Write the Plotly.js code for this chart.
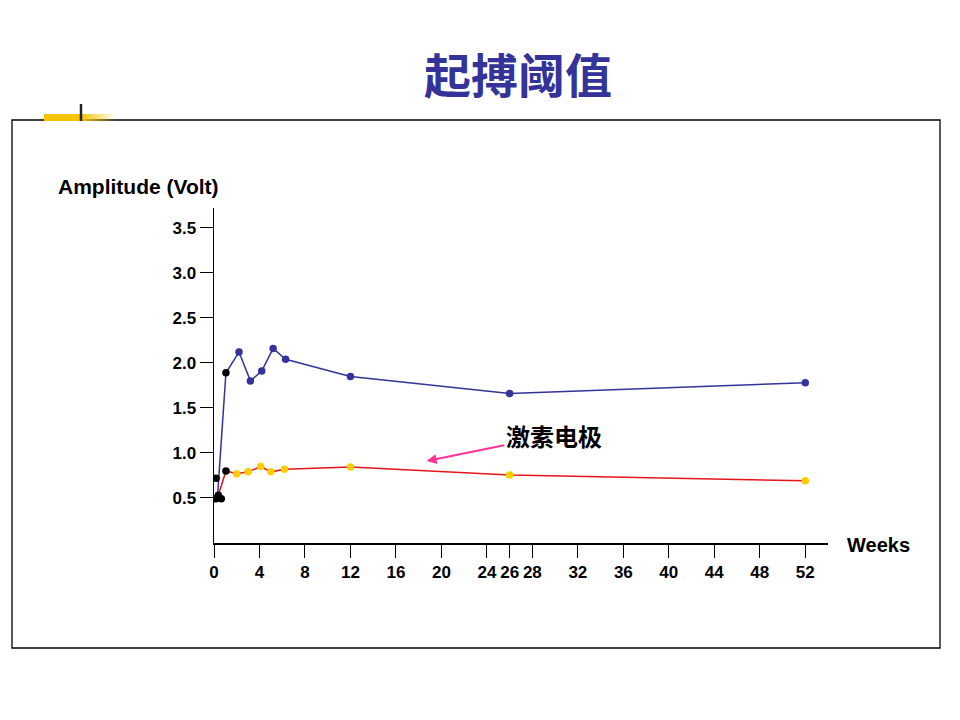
<!DOCTYPE html>
<html><head><meta charset="utf-8">
<script src="https://cdn.plot.ly/plotly-3.0.1.min.js"></script>
<style>html,body{margin:0;padding:0;background:#fff}#chart{width:960px;height:720px}</style>
</head><body><div id="chart"></div>
<script>
// Data (weeks, volts)
const blueWeeks = [0.3, 1.05, 2.2, 3.2, 4.2, 5.2, 6.3, 12, 26, 52];
const blueVolts = [0.50, 1.89, 2.12, 1.80, 1.91, 2.16, 2.04, 1.85, 1.66, 1.78];
const redWeeks = [0.38, 1.05, 2.0, 3.0, 4.1, 5.0, 6.2, 12, 26, 52];
const redVolts = [0.53, 0.80, 0.77, 0.79, 0.85, 0.79, 0.82, 0.845, 0.755, 0.69];
const blackWeeks = [0.18, 0.18, 0.64];
const blackVolts = [0.72, 0.49, 0.49];
const xTickVals = [0, 4, 8, 12, 16, 20, 24, 26, 28, 32, 36, 40, 44, 48, 52];
const yTickVals = [0.5, 1.0, 1.5, 2.0, 2.5, 3.0, 3.5];
const titleText = '起搏阈值';
const yTitle = 'Amplitude (Volt)';
const xTitle = 'Weeks';
const arrowLabel = '激素电极';

// plot area geometry (pixels)
const L = 214, R = 828, T = 208, B = 543;
const px = p => (p - L) / (R - L);
const py = p => (B - p) / (B - T);

const BLUE = '#333399', RED = '#e8141c', YEL = '#ffcc00';
const traces = [
  {x: blueWeeks, y: blueVolts, mode: 'lines+markers', line: {color: BLUE, width: 1.5},
   marker: {size: 7.5, color: blueVolts.map((v, i) => i < 2 ? '#000' : BLUE)}, hoverinfo: 'x+y'},
  {x: redWeeks, y: redVolts, mode: 'lines+markers', line: {color: RED, width: 1.5},
   marker: {size: 7.5, color: redVolts.map((v, i) => i < 2 ? '#000' : YEL)}, hoverinfo: 'x+y'},
  {x: blackWeeks, y: blackVolts, mode: 'markers', marker: {size: 7.5, color: '#000'}, hoverinfo: 'x+y'}
];

const shapes = [
  {type: 'rect', xref: 'paper', yref: 'paper', x0: px(12), x1: px(940), y0: py(648), y1: py(120),
   line: {color: '#000', width: 1.3}, fillcolor: 'rgba(0,0,0,0)', layer: 'below'}
];
// yellow fading bar
const bx1 = 116, steps = 12;
shapes.push({type: 'rect', xref: 'paper', yref: 'paper', x0: px(44), x1: px(82), y0: py(121), y1: py(114),
  line: {width: 0}, fillcolor: '#f5c400'});
for (let i = 0; i < steps; i++) {
  const a = 82 + (bx1 - 82) * i / steps, b = 82 + (bx1 - 82) * (i + 1) / steps;
  shapes.push({type: 'rect', xref: 'paper', yref: 'paper', x0: px(a), x1: px(b), y0: py(121), y1: py(114),
    line: {width: 0}, fillcolor: 'rgba(245,196,0,' + (1 - (i + 0.5) / steps).toFixed(2) + ')'});
}
shapes.push({type: 'line', xref: 'paper', yref: 'paper', x0: px(81), x1: px(81), y0: py(104), y1: py(121),
  line: {color: '#222', width: 2.5}});

const AR = 'Arial, Liberation Sans, sans-serif';
const tickFont = {family: AR, size: 17, color: '#000', weight: 'bold'};

const layout = {
  width: 960, height: 720, paper_bgcolor: '#fff', plot_bgcolor: '#fff', showlegend: false,
  margin: {l: L, r: 960 - R, t: T, b: 720 - B, pad: 0},
  xaxis: {range: [0, 54], tickvals: xTickVals, ticktext: xTickVals.map(String), showgrid: false, zeroline: false,
    showline: true, linecolor: '#000', linewidth: 1.5, ticks: 'outside', ticklen: 13, tickwidth: 1, tickcolor: '#000',
    tickfont: tickFont, fixedrange: true},
  yaxis: {range: [0, 3.72], tickvals: yTickVals, ticktext: yTickVals.map(v => v.toFixed(1)), showgrid: false, zeroline: false,
    showline: true, linecolor: '#000', linewidth: 1.5, ticks: 'outside', ticklen: 13, tickwidth: 1, tickcolor: '#000',
    tickfont: tickFont, fixedrange: true},
  shapes: shapes,
  annotations: [
    {xref: 'paper', yref: 'paper', x: px(518), y: py(73), text: titleText, showarrow: false,
     xanchor: 'center', yanchor: 'middle',
     font: {family: 'Noto Sans CJK SC, sans-serif', size: 47, color: BLUE, weight: 'bold'}},
    {xref: 'paper', yref: 'paper', x: px(56), y: py(186), text: yTitle, showarrow: false,
     xanchor: 'left', yanchor: 'middle', font: {family: AR, size: 21, color: '#000', weight: 'bold'}},
    {xref: 'paper', yref: 'paper', x: px(845), y: py(545), text: xTitle, showarrow: false,
     xanchor: 'left', yanchor: 'middle', font: {family: AR, size: 20, color: '#000', weight: 'bold'}},
    {x: 18.7, y: 0.91, xref: 'x', yref: 'y', text: arrowLabel, showarrow: true, arrowhead: 2, arrowsize: 1,
     arrowwidth: 2, arrowcolor: '#ff3399', ax: 127, ay: -26, xanchor: 'center', yanchor: 'middle',
     font: {family: 'Noto Sans CJK SC, sans-serif', size: 24, color: '#000', weight: 'bold'}}
  ]
};

Plotly.newPlot('chart', traces, layout, {staticPlot: true, displayModeBar: false});
</script></body></html>
